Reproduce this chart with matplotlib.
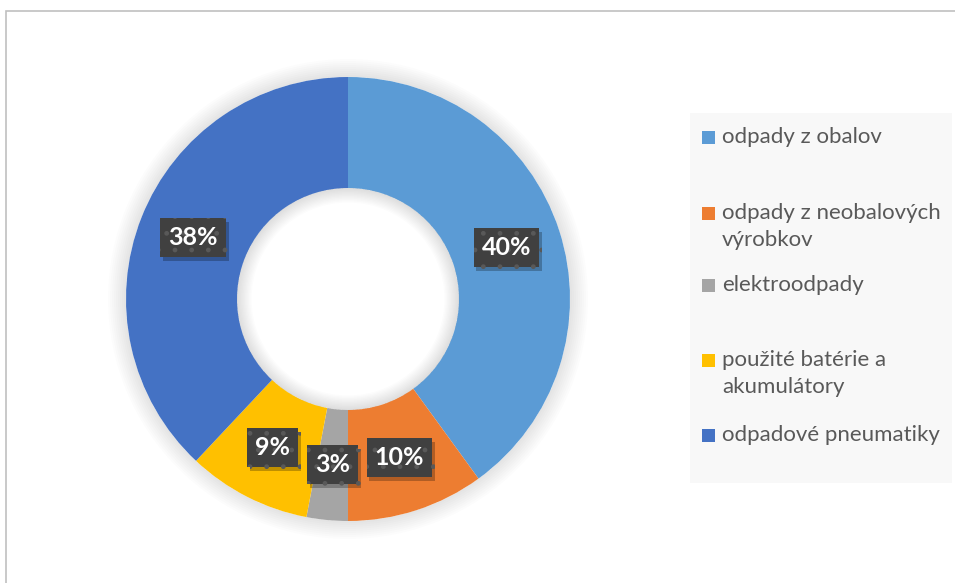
import matplotlib
matplotlib.use("Agg")
import matplotlib.pyplot as plt
from matplotlib.patches import Rectangle, Wedge
import matplotlib.patheffects as pe
import numpy as np

categories = ["odpady z obalov", "odpady z neobalových\nvýrobkov", "elektroodpady",
              "použité batérie a\nakumulátory", "odpadové pneumatiky"]
values = [40, 10, 3, 9, 38]
colors = ["#5B9BD5", "#ED7D31", "#A5A5A5", "#FFC000", "#4472C4"]
pct_labels = [f"{v:.0f}%" for v in values]

plt.rcParams['font.family'] = ['Lato', 'DejaVu Sans']

W, H = 955, 583
fig = plt.figure(figsize=(W / 100, H / 100), dpi=100)

def fx(px):
    return px / W

def fy(py):
    return 1 - py / H

# chart frame
fig.patches.append(Rectangle((fx(6), fy(600)), fx(1000), fy(11) - fy(600), transform=fig.transFigure,
                             facecolor="none", edgecolor="#c0c0c0", lw=1.2))

# pie axes
cx, cy, R = 348, 299, 222
half = 250
ax = fig.add_axes([fx(cx - half), fy(cy + half), 2 * half / W, 2 * half / H])
lim = half / R

# soft outer glow
for i in range(1, 10):
    ax.add_patch(Wedge((0, 0), 1 + i * 0.009, 0, 360, width=i * 0.009,
                       facecolor="#000000", alpha=0.012, lw=0, zorder=0))

wedges, _ = ax.pie(values, colors=colors, startangle=90, counterclock=False, radius=1,
                   wedgeprops=dict(width=0.5, edgecolor='none', linewidth=0),
                   frame=True)
ax.set_xlim(-lim, lim)
ax.set_ylim(-lim, lim)
ax.set_aspect('equal')
ax.axis('off')

# inner shading of the hole
for i in range(1, 12):
    ax.add_patch(Wedge((0, 0), 0.5, 0, 360, width=i * 0.006,
                       facecolor="#000000", alpha=0.010, lw=0, zorder=3))

# data labels
total = sum(values)
start = 90.0
for v, lab in zip(values, pct_labels):
    ang = start - v / total * 360 / 2
    start -= v / total * 360
    r = 0.75
    x, y = r * np.cos(np.radians(ang)), r * np.sin(np.radians(ang))
    t = ax.text(x, y, lab, ha='center', va='center', fontsize=18, fontweight='bold',
                color='white', zorder=5,
                bbox=dict(boxstyle='square,pad=0.32', facecolor='#404040', edgecolor='#595959',
                          lw=0, hatch='.'))
    t.get_bbox_patch().set_path_effects([
        pe.SimplePatchShadow(offset=(2, -3), shadow_rgbFace='black', alpha=0.25),
        pe.Normal()])

# legend
fig.patches.append(Rectangle((fx(690), fy(483)), fx(952) - fx(690), fy(113) - fy(483),
                             transform=fig.transFigure, facecolor="#f8f8f8", edgecolor='none'))
leg_y = [137, 213, 285, 360, 435]
for c, lab, yy in zip(colors, categories, leg_y):
    fig.patches.append(Rectangle((fx(702), fy(yy + 7)), fx(13), fy(0) - fy(13),
                                 transform=fig.transFigure, facecolor=c, edgecolor='none'))
    for i, line in enumerate(lab.split("\n")):
        fig.text(fx(722), fy(yy + i * 27), line, ha='left', va='center', fontsize=16,
                 color='#595959')

fig.savefig("out.png", dpi=100)
